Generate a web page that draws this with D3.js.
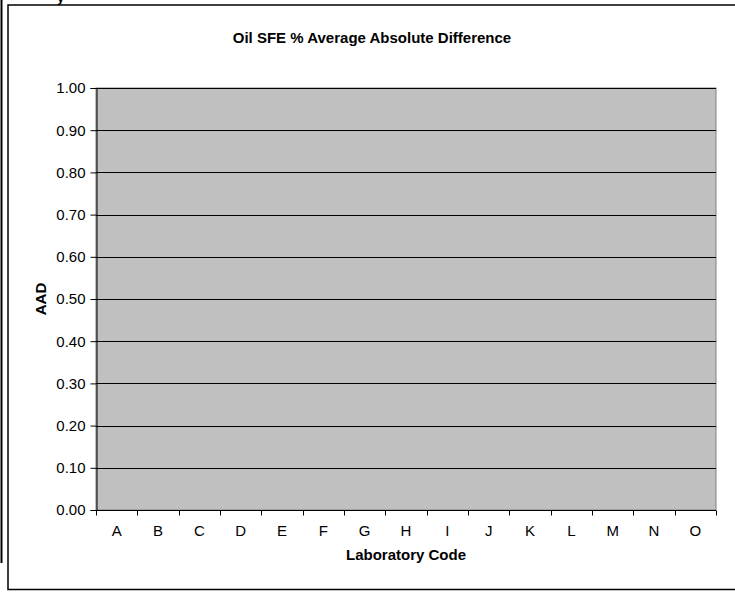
<!DOCTYPE html>
<html>
<head>
<meta charset="utf-8">
<script src="https://cdn.jsdelivr.net/npm/d3@7"></script>
<style>
  body { margin: 0; background: #fff; }
  svg { display: block; font-family: 'Liberation Sans', Arial, sans-serif; }
</style>
</head>
<body>
<div id="chart"></div>
<script>
'use strict'

const labs = ['A', 'B', 'C', 'D', 'E', 'F', 'G', 'H', 'I', 'J', 'K', 'L', 'M', 'N', 'O']
// no bars are visible in the reference, so every lab reads as zero
const aad = [0, 0, 0, 0, 0, 0, 0, 0, 0, 0, 0, 0, 0, 0, 0]
const yTicks = [0, 0.1, 0.2, 0.3, 0.4, 0.5, 0.6, 0.7, 0.8, 0.9, 1.0]

const width = 735
const height = 593
const margin = { top: 88, right: 19, bottom: 83, left: 96 }
const fs = '15px'

const svg = d3.select('#chart')
  .append('svg')
  .attr('width', width)
  .attr('height', height)

// stray bits from the page around the chart
svg.append('line')
  .attr('x1', 1.5).attr('x2', 1.5)
  .attr('y1', 0).attr('y2', 563)
  .attr('stroke', '#000').attr('stroke-width', 2)

svg.append('text')
  .attr('x', 57).attr('y', 2)
  .style('font-size', '13px').style('font-weight', 'bold')
  .text('y')

// chart box
svg.append('rect')
  .attr('x', 8).attr('y', 5)
  .attr('width', 740).attr('height', 584.5)
  .attr('fill', '#fff')
  .attr('stroke', '#000').attr('stroke-width', 1.5)

const x = d3.scaleBand()
  .domain(labs)
  .range([margin.left, width - margin.right])

const y = d3.scaleLinear()
  .domain([0, 1])
  .range([height - margin.bottom, margin.top])

// plot area
svg.append('rect')
  .attr('x', margin.left).attr('y', margin.top)
  .attr('width', width - margin.right - margin.left)
  .attr('height', height - margin.bottom - margin.top)
  .attr('fill', '#c0c0c0')
  .attr('stroke', '#808080')

// gridlines
svg.append('g')
  .selectAll('line')
  .data(yTicks.slice(1))
  .enter()
  .append('line')
  .attr('x1', margin.left).attr('x2', width - margin.right)
  .attr('y1', d => Math.round(y(d)) + 0.5)
  .attr('y2', d => Math.round(y(d)) + 0.5)
  .attr('stroke', '#000')

// bars
svg.append('g')
  .selectAll('rect')
  .data(aad)
  .enter()
  .append('rect')
  .attr('x', (d, i) => x(labs[i]) + x.bandwidth() * 0.2)
  .attr('width', x.bandwidth() * 0.6)
  .attr('y', d => y(d))
  .attr('height', d => y(0) - y(d))
  .attr('fill', '#9999ff')

// y axis
const yAxis = svg.append('g')
  .attr('transform', `translate(${margin.left + 0.5},0)`)
  .call(d3.axisLeft(y).tickValues(yTicks).tickFormat(d3.format('.2f')).tickSize(6).tickPadding(5))
  .attr('font-family', null)
  .attr('font-size', null)
yAxis.select('.domain').attr('stroke', '#000')
yAxis.selectAll('text').style('font-size', fs).attr('fill', '#000')

// x axis: ticks sit on the category boundaries
const xAxis = svg.append('g')
  .attr('transform', `translate(0,${height - margin.bottom + 0.5})`)
xAxis.append('line')
  .attr('x1', margin.left).attr('x2', width - margin.right)
  .attr('stroke', '#000')
xAxis.selectAll('.tick')
  .data(labs.concat(['end']))
  .enter()
  .append('line')
  .attr('x1', (d, i) => Math.round(margin.left + i * x.step()) + 0.5)
  .attr('x2', (d, i) => Math.round(margin.left + i * x.step()) + 0.5)
  .attr('y1', 0).attr('y2', 5)
  .attr('stroke', '#000')
xAxis.selectAll('text')
  .data(labs)
  .enter()
  .append('text')
  .attr('x', d => x(d) + x.bandwidth() / 2)
  .attr('y', 25)
  .attr('text-anchor', 'middle')
  .style('font-size', fs)
  .text(d => d)

// titles
svg.append('text')
  .attr('x', 372).attr('y', 43)
  .attr('text-anchor', 'middle')
  .style('font-size', '15px').style('font-weight', 'bold')
  .text('Oil SFE % Average Absolute Difference')

svg.append('text')
  .attr('x', (margin.left + width - margin.right) / 2)
  .attr('y', 560)
  .attr('text-anchor', 'middle')
  .style('font-size', '15px').style('font-weight', 'bold')
  .text('Laboratory Code')

svg.append('text')
  .attr('transform', `translate(46,${(y(0) + y(1)) / 2}) rotate(-90)`)
  .attr('text-anchor', 'middle')
  .style('font-size', '15px').style('font-weight', 'bold')
  .text('AAD')
</script>
</body>
</html>
